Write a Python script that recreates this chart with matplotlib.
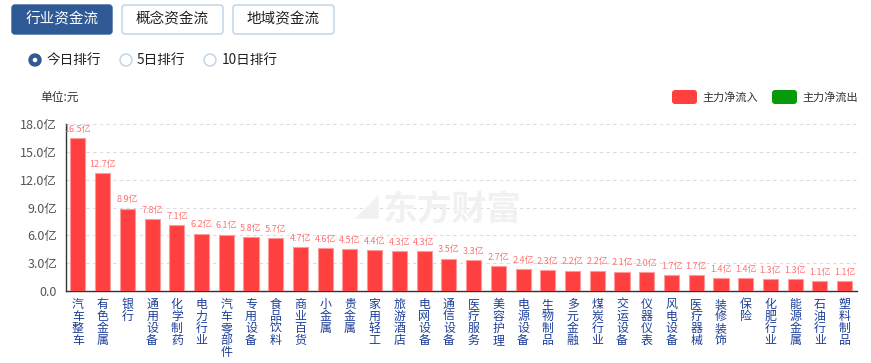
import matplotlib
matplotlib.use("Agg")
import matplotlib.pyplot as plt
from matplotlib.patches import FancyBboxPatch, Circle
from matplotlib.transforms import IdentityTransform

plt.rcParams['font.family'] = ['Noto Sans CJK SC', 'DejaVu Sans']

categories = ["汽车整车", "有色金属", "银行", "通用设备", "化学制药", "电力行业", "汽车零部件",
              "专用设备", "食品饮料", "商业百货", "小金属", "贵金属", "家用轻工", "旅游酒店",
              "电网设备", "通信设备", "医疗服务", "美容护理", "电源设备", "生物制品", "多元金融",
              "煤炭行业", "交运设备", "仪器仪表", "风电设备", "医疗器械", "装修装饰", "保险",
              "化肥行业", "能源金属", "石油行业", "塑料制品"]
values = [16.5, 12.7, 8.9, 7.8, 7.1, 6.2, 6.1, 5.8, 5.7, 4.7, 4.6, 4.5, 4.4, 4.3, 4.3,
          3.5, 3.3, 2.7, 2.4, 2.3, 2.2, 2.2, 2.1, 2.0, 1.7, 1.7, 1.4, 1.4, 1.3, 1.3, 1.1, 1.1]
yticks = [0, 3, 6, 9, 12, 15, 18]
ytick_labels = ["0.0", "3.0亿", "6.0亿", "9.0亿", "12.0亿", "15.0亿", "18.0亿"]
tabs = ["行业资金流", "概念资金流", "地域资金流"]
radios = ["今日排行", "5日排行", "10日排行"]
legend_labels = ["主力净流入", "主力净流出"]

W, H = 871, 363
fig = plt.figure(figsize=(W / 100, H / 100), dpi=100)
ID = IdentityTransform()

def py(y):
    return H - y

# axes
ax_l, ax_r, ax_t, ax_b = 65.5, 857, 124.3, 291
ax = fig.add_axes([ax_l / W, (H - ax_b) / H, (ax_r - ax_l) / W, (ax_b - ax_t) / H])
x = list(range(len(categories)))
ax.bar(x, values, width=0.61, color="#ff4040", edgecolor="#ff9a9a", linewidth=0.8, zorder=3)
ax.set_xlim(-0.5, len(categories) - 0.5)
ax.set_ylim(0, 18)
ax.set_yticks(yticks)
ax.set_yticklabels(ytick_labels, fontsize=9, color="#555555")
ax.tick_params(axis="y", length=0, pad=6)
ax.set_xticks([])
for s in ["top", "right"]:
    ax.spines[s].set_visible(False)
ax.spines["left"].set_color("#333333")
ax.spines["bottom"].set_color("#333333")
ax.spines["left"].set_linewidth(1)
ax.spines["bottom"].set_linewidth(1)
for t in yticks[1:]:
    ax.axhline(t, color="#dddddd", linewidth=0.8, linestyle=(0, (3, 3)), zorder=1)

# bar value labels
for xi, v in zip(x, values):
    ax.annotate(f"{v:.1f}亿", xy=(xi, v), xytext=(0, 3), textcoords="offset points",
                ha="center", va="bottom", fontsize=6.5, color="#ff7070", zorder=4)

# vertical category labels
for xi, name in zip(x, categories):
    for i, ch in enumerate(name):
        ax.annotate(ch, xy=(xi, 0), xytext=(0, -(13.3 + 12.1 * i) * 0.72), textcoords="offset points",
                    ha="center", va="center", fontsize=8.6, color="#1d3f98", annotation_clip=False)

# watermark
fig.text(383 / W, 1 - 209 / H, "东方财富", fontsize=25, fontweight="bold", color="#f1f1f1",
         ha="left", va="center", zorder=0)
fig.text(355 / W, 1 - 209 / H, "◢", fontsize=17, color="#f1f1f1", ha="left", va="center", zorder=0)

# tabs
tab_boxes = [(12, 112), (122, 223), (233, 334)]
for i, (lab, (x0, x1)) in enumerate(zip(tabs, tab_boxes)):
    active = i == 0
    p = FancyBboxPatch((x0, py(34)), x1 - x0, 29, boxstyle="round,pad=0,rounding_size=3",
                       transform=ID, facecolor="#2f5a96" if active else "white",
                       edgecolor="#2f5a96" if active else "#b9d2ea", linewidth=1)
    fig.add_artist(p)
    fig.text((x0 + x1) / 2 / W, 1 - 19.5 / H, lab, fontsize=10.5,
             color="white" if active else "#222222", ha="center", va="center")

# radios
radio_pos = [(35, 47), (126, 137), (210, 222)]
for i, (lab, (cx, tx)) in enumerate(zip(radios, radio_pos)):
    if i == 0:
        fig.add_artist(Circle((cx, py(60)), 6, transform=ID, facecolor="#2f5a96", edgecolor="#2f5a96"))
        fig.add_artist(Circle((cx, py(60)), 2.3, transform=ID, facecolor="white", edgecolor="none"))
    else:
        fig.add_artist(Circle((cx, py(60)), 6, transform=ID, facecolor="white",
                              edgecolor="#bcd3ea", linewidth=1))
    fig.text(tx / W, 1 - 60 / H, lab, fontsize=9.8, color="#222222", ha="left", va="center")

# unit label
fig.text(40 / W, 1 - 97 / H, "单位:元", fontsize=8.5, color="#333333", ha="left", va="center")

# legend
leg_pos = [(672, 702, "#ff4040"), (772, 802, "#079b0b")]
for lab, (rx, tx, c) in zip(legend_labels, leg_pos):
    p = FancyBboxPatch((rx, py(104)), 25, 14, boxstyle="round,pad=0,rounding_size=3",
                       transform=ID, facecolor=c, edgecolor="none")
    fig.add_artist(p)
    fig.text(tx / W, 1 - 97 / H, lab, fontsize=8, color="#333333", ha="left", va="center")

fig.savefig("out.png", dpi=100)
